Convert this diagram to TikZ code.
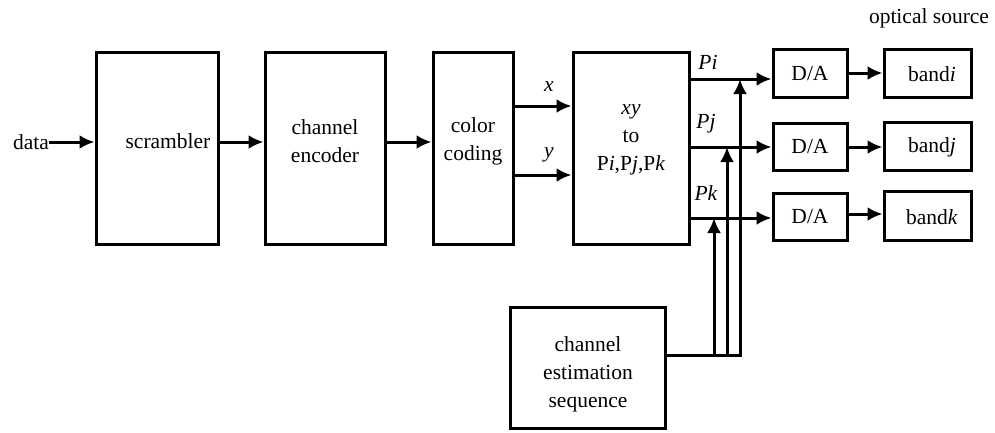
\documentclass[tikz,border=0pt]{standalone}
\usepackage{fontspec}
\setmainfont{Liberation Serif}
\usetikzlibrary{arrows.meta}
\begin{document}
\begin{tikzpicture}[x=1pt,y=-1pt,
  box/.style={draw,line width=3pt,inner sep=0pt},
  txt/.style={font=\fontsize{21.5}{28}\selectfont,align=center,inner sep=0pt},
  conn/.style={line width=3pt,-{Latex[length=15pt,width=14pt]}},
  plain/.style={line width=3pt}]
\useasboundingbox (0,0) rectangle (995,432);
% boxes
\node[box,minimum width=122pt,minimum height=192pt] (scr) at (157,148) {};
\node[box,minimum width=120pt,minimum height=192pt] (enc) at (325,148) {};
\node[box,minimum width=80pt,minimum height=192pt] (col) at (473,148) {};
\node[box,minimum width=116pt,minimum height=192pt] (xy) at (631,148) {};
\node[box,minimum width=74pt,minimum height=48pt] (da1) at (810,73) {};
\node[box,minimum width=74pt,minimum height=47pt] (da2) at (810,146.5) {};
\node[box,minimum width=74pt,minimum height=47pt] (da3) at (810,216.5) {};
\node[box,minimum width=87pt,minimum height=48pt] (b1) at (927.5,73) {};
\node[box,minimum width=87pt,minimum height=48pt] (b2) at (927.5,146) {};
\node[box,minimum width=87pt,minimum height=49pt] (b3) at (927.5,215.5) {};
\node[box,minimum width=155pt,minimum height=121pt] (ces) at (587.5,367.5) {};
% texts
\node[txt] (tdata) at (31,142) {data};
\node[txt] (tscr) at (168,141) {scrambler};
\node[txt] (tenc) at (325,141) {channel\\encoder};
\node[txt] (tcol) at (473,141) {color\\coding};
\node[txt] (txy) at (631,140) {\textit{xy}\\to\\P\textit{i},P\textit{j},P\textit{k}};
\node[txt] at (810,74) (tda1) {D/A};
\node[txt] at (810,147) (tda2) {D/A};
\node[txt] at (810,217) (tda3) {D/A};
\node[txt] at (932,74) (tb1) {band\textit{i}};
\node[txt] at (932,147) (tb2) {band\textit{j}};
\node[txt] at (932,217) (tb3) {band\textit{k}};
\node[txt] at (929,18) (tos) {optical source};
\node[txt] at (588,374) (tces) {channel\\estimation\\sequence};
\node[txt] at (549,87) (lx) {\textit{x}};
\node[txt] at (549,155) (ly) {\textit{y}};
\node[txt] at (708,62) (lpi) {\textit{Pi}};
\node[txt] at (706,124) (lpj) {\textit{Pj}};
\node[txt] at (706,193) (lpk) {\textit{Pk}};
% connectors
\draw[conn] (tdata.east |- 0,142) -- (scr.west |- 0,142);
\draw[conn] (scr.east |- 0,142) -- (enc.west |- 0,142);
\draw[conn] (enc.east |- 0,142) -- (col.west |- 0,142);
\draw[conn] (col.east |- 0,106) -- (xy.west |- 0,106);
\draw[conn] (col.east |- 0,175) -- (xy.west |- 0,175);
\draw[conn] (xy.east |- 0,79) -- (da1.west |- 0,79);
\draw[conn] (xy.east |- 0,147) -- (da2.west |- 0,147);
\draw[conn] (xy.east |- 0,218) -- (da3.west |- 0,218);
\draw[conn] (da1.east |- 0,73) -- (b1.west |- 0,73);
\draw[conn] (da2.east |- 0,147) -- (b2.west |- 0,147);
\draw[conn] (da3.east |- 0,214) -- (b3.west |- 0,214);
\coordinate (c1) at (714,355);
\coordinate (c2) at (727,355);
\coordinate (c3) at (740,355);
\draw[conn] (ces.east |- c1) -- (c3) -- (c3 |- 0,79);
\draw[conn] (c1) -- (c1 |- 0,218);
\draw[conn] (c2) -- (c2 |- 0,147);
\end{tikzpicture}
\end{document}
